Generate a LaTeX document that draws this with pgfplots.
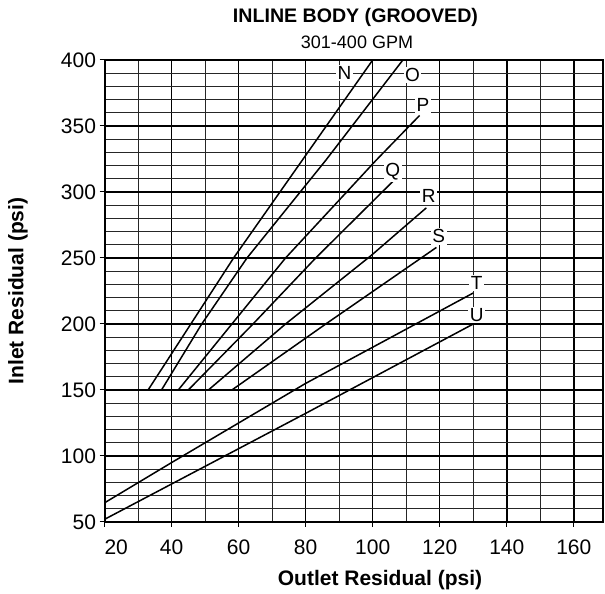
\documentclass[border=0pt]{standalone}
\usepackage{fontspec}
\setmainfont{Liberation Sans}
\usepackage{pgfplots}
\pgfplotsset{compat=1.18}
\begin{document}
\begin{tikzpicture}[x=1pt,y=1pt]
\begin{axis}[
  at={(104.5pt,72pt)}, anchor=south west,
  width=498.5pt, height=462pt, scale only axis,
  xmin=20, xmax=168.7, ymin=50, ymax=400,
  xtick={20,40,...,160}, minor x tick num=1,
  xticklabels={\hphantom{00}20,40,60,80,100,120,140,160},
  ytick={50,100,...,400}, minor y tick num=4,
  grid=both,
  major grid style={black, line width=1.5pt},
  minor grid style={black!85, line width=0.8pt},
  axis line style={line width=2pt},
  tick align=outside, major tick length=5pt, minor tick length=0pt,
  xtick pos=left, ytick pos=left,
  tick style={black, line width=1pt},
  tick label style={font=\fontsize{21}{24}\selectfont},
  xticklabel style={yshift=-9pt},
  /pgf/number format/assume math mode=true,
  /pgf/number format/1000 sep={},
]
\addplot[black, line width=1.5pt] coordinates {(33,150) (58.5,250) (100,400)};
\addplot[black, line width=1.5pt] coordinates {(37,150) (49,200) (62.5,250) (86,324) (109,400)};
\addplot[black, line width=1.5pt] coordinates {(42,150) (58,200) (74,250) (101,324) (114,358)};
\addplot[black, line width=1.5pt] coordinates {(45,150) (64.3,200) (83,250) (106,308)};
\addplot[black, line width=1.5pt] coordinates {(51,150) (74,200) (99.6,252) (116,288)};
\addplot[black, line width=1.5pt] coordinates {(58,150) (86,200) (119,258)};
\addplot[black, line width=1.5pt] coordinates {(20,64.5) (40,95) (80,155) (130,223.5)};
\addplot[black, line width=1.5pt] coordinates {(20,52) (80,132.3) (130,200)};
\begin{scope}[every node/.style={fill=white, inner sep=1.5pt, font=\fontsize{19}{21}\selectfont}]
\node at (axis cs:91.6,390) {N};
\node at (axis cs:111.9,388.6) {O};
\node at (axis cs:115,366) {P};
\node at (axis cs:106,315.4) {Q};
\node at (axis cs:116.7,296.7) {R};
\node at (axis cs:119.7,266.4) {S};
\node at (axis cs:131,231) {T};
\node at (axis cs:131,207) {U};
\end{scope}
\end{axis}
\node[font=\bfseries\fontsize{19.6}{22}\selectfont] at (355.5,577) {INLINE BODY (GROOVED)};
\node[font=\fontsize{18}{21}\selectfont] at (357,552) {301-400 GPM};
\node[font=\bfseries\fontsize{21}{24}\selectfont, rotate=90] at (18,303) {Inlet Residual (psi)};
\node[font=\bfseries\fontsize{21}{24}\selectfont] at (380,14) {Outlet Residual (psi)};
\pgfresetboundingbox
\path[use as bounding box] (0,0) rectangle (605,594);
\end{tikzpicture}
\end{document}
